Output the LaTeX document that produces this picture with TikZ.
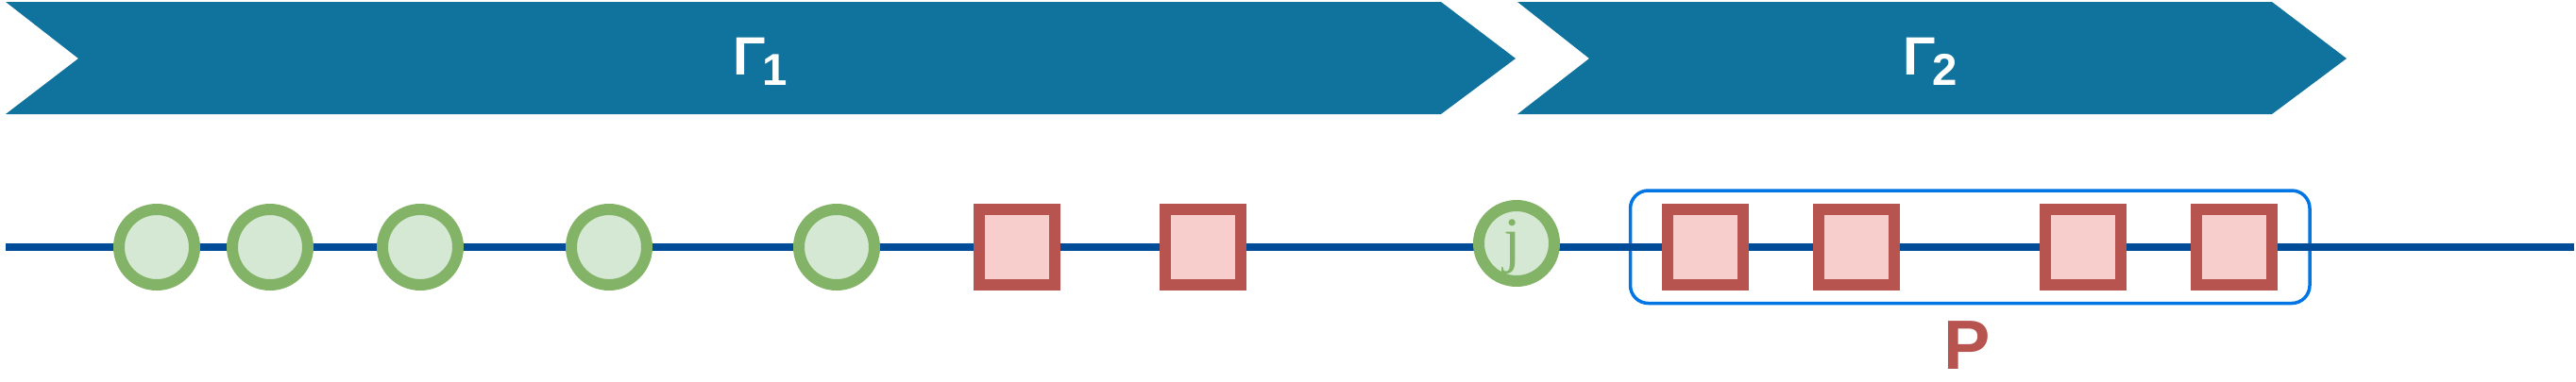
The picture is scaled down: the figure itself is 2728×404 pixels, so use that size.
\documentclass[tikz,border=0pt]{standalone}
\usepackage{fontspec}
\setmainfont{Liberation Sans}
\newfontfamily\serifj{Liberation Serif}
\definecolor{chev}{HTML}{10739E}
\definecolor{axis}{HTML}{004C99}
\definecolor{gfill}{HTML}{D5E8D4}
\definecolor{gdraw}{HTML}{82B366}
\definecolor{rfill}{HTML}{F8CECC}
\definecolor{rdraw}{HTML}{B85450}
\definecolor{pbox}{HTML}{0075E3}
\begin{document}
\begin{tikzpicture}[x=0.5pt,y=-0.5pt,
  chevron/.style={fill=chev,draw=none},
  gamlabel/.style={inner sep=0pt,text=white,anchor=base west,font=\bfseries\fontsize{28.6pt}{30pt}\selectfont},
  gnode/.style={circle,fill=gfill,draw=gdraw,line width=6pt,minimum size=40pt,inner sep=0pt},
  rnode/.style={rectangle,fill=rfill,draw=rdraw,line width=6pt,minimum size=40pt,inner sep=0pt},
  axisline/.style={draw=axis,line width=4pt},
  groupbox/.style={rectangle,draw=pbox,line width=1.75pt,rounded corners=9.5pt,minimum width=359.75pt,minimum height=59.75pt,inner sep=0pt}
]
\useasboundingbox (0,0) rectangle (2728,404);
% chevrons
\path[chevron] (6,2) -- (1526,2) -- (1605,62) -- (1526,121) -- (6,121) -- (83,62) -- cycle;
\path[chevron] (1607,2) -- (2406,2) -- (2485,62) -- (2406,121) -- (1607,121) -- (1683,62) -- cycle;
\node[gamlabel] (g1) at (776,79) {Γ\kern-1.5pt\raisebox{-5.5pt}{\fontsize{23.7pt}{25pt}\selectfont 1}};
\node[gamlabel] (g2) at (2015,79) {Γ\kern-1.5pt\raisebox{-5.5pt}{\fontsize{23.7pt}{25pt}\selectfont 2}};
% group box
\node[groupbox] (P box) at (2086.25,261.75) {};
\node[inner sep=0pt,anchor=base,text=rdraw,font=\bfseries\fontsize{37pt}{40pt}\selectfont] (Plabel) at (2083,391) {P};
% axis
\coordinate (L0) at (6,262);
\coordinate (L1) at (2726,262);
\draw[axisline] (L0) -- (L1);
% circles
\node[gnode] (c1) at (166,262) {};
\node[gnode] (c2) at (286,262) {};
\node[gnode] (c3) at (445,262) {};
\node[gnode] (c4) at (645,262) {};
\node[gnode] (c5) at (886,262) {};
\node[gnode] (j) at (1606,258) {};
\node[inner sep=0pt,anchor=base,text=gdraw,font=\serifj\fontsize{33pt}{35pt}\selectfont] (jlab) at (1602,276) {j};
% squares
\node[rnode] (s1) at (1077,262) {};
\node[rnode] (s2) at (1274,262) {};
\node[rnode] (s3) at (1806,262) {};
\node[rnode] (s4) at (1966,262) {};
\node[rnode] (s5) at (2206,262) {};
\node[rnode] (s6) at (2366,262) {};
\end{tikzpicture}
\end{document}
